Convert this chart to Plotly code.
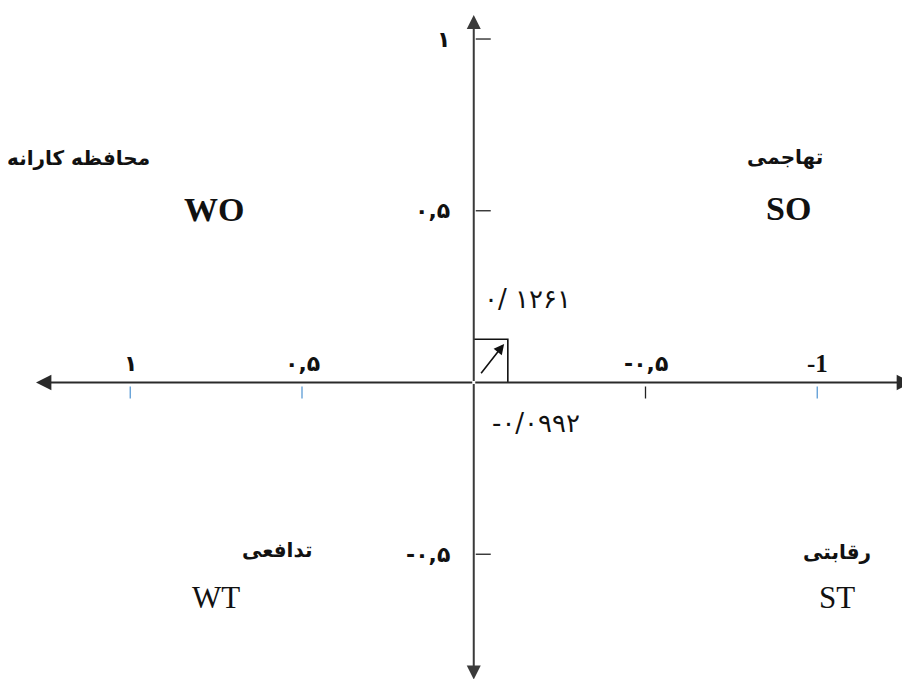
import plotly.graph_objects as go

# ماتریس موقعیت و ارزیابی اقدام راهبردی
x_tick_values = [1, 0.5, -0.5, -1]
x_tick_labels = ["۱", "۰,۵", "-۰,۵", "<b>-1</b>"]
y_tick_values = [1, 0.5, -0.5]
y_tick_labels = ["۱", "۰,۵", "-۰,۵"]

# موقعیت نهایی (بردار جهت)
point_x = [-0.0992]
point_y = [0.1261]
point_x_label = "-۰/۰۹۹۲"
point_y_label = "۰/ ۱۲۶۱"

quadrant_names = ["محافظه کارانه", "تهاجمی", "تدافعی", "رقابتی"]
quadrant_codes = ["WO", "SO", "WT", "ST"]

# ---- layout constants (page body adds an 8px offset) ----
X_RANGE = [1.3559, -1.2933]   # reversed: positive values on the left
Y_RANGE = [-0.8865, 1.0903]
X_END = [1.2744, -1.2760]     # arrow tips of the horizontal axis
Y_END = [1.0699, -0.8650]     # arrow tips of the vertical axis
FA = "DejaVu Sans"
SERIF = "Liberation Serif"
x_tick_colors = ["#5b9bd5", "#5b9bd5", "#222222", "#5b9bd5"]


def paper(xs, ys):
    # screen pixel -> paper fraction
    return (xs - 8) / 910, 1 - (ys - 8) / 679


fig = go.Figure()

# axes with arrow heads
for xe in X_END:
    fig.add_annotation(x=xe, y=0, ax=0, ay=0, xref="x", yref="y", axref="x", ayref="y",
                       text="", showarrow=True, arrowhead=2, arrowsize=1.4,
                       arrowwidth=2.2, arrowcolor="#2a2a2a")
for ye in Y_END:
    fig.add_annotation(x=0, y=ye, ax=0, ay=0, xref="x", yref="y", axref="x", ayref="y",
                       text="", showarrow=True, arrowhead=2, arrowsize=1.4,
                       arrowwidth=2, arrowcolor="#3a3a3a")

# tick marks
for v, c in zip(x_tick_values, x_tick_colors):
    fig.add_shape(type="line", xref="x", yref="y", x0=v, x1=v,
                  ysizemode="pixel", yanchor=0, y0=-4, y1=-16,
                  line=dict(color=c, width=1.3))
for v in y_tick_values:
    fig.add_shape(type="line", xref="x", yref="y", y0=v, y1=v,
                  xsizemode="pixel", xanchor=0, x0=2, x1=17,
                  line=dict(color="#222222", width=1.3))

# tick labels
for v, t in zip(x_tick_values, x_tick_labels):
    latin = t.startswith("<b>")
    fig.add_annotation(x=v, y=0, text=t if latin else f"<b>{t}</b>", showarrow=False,
                       yshift=19, xanchor="center",
                       font=dict(family=SERIF if latin else FA,
                                 size=25 if latin else 22, color="#111111"))
for v, t in zip(y_tick_values, y_tick_labels):
    fig.add_annotation(x=0, y=v, text=f"<b>{t}</b>", showarrow=False, xanchor="right",
                       xshift=-22, font=dict(family=FA, size=22, color="#111111"))

# box around the resulting vector
px, py = point_x[0], point_y[0]
fig.add_trace(go.Scatter(x=[0, px, px], y=[py, py, 0], mode="lines",
                         line=dict(color="#111111", width=1.6),
                         hoverinfo="skip", showlegend=False))
fig.add_annotation(x=px, y=py, ax=0, ay=0, xref="x", yref="y", axref="x", ayref="y",
                   text="", showarrow=True, arrowhead=2, arrowsize=1.3,
                   arrowwidth=1.6, arrowcolor="#111111", standoff=6, startstandoff=10)
fig.add_annotation(x=px, y=py, text=point_y_label, showarrow=False, yshift=40,
                   xshift=20, xanchor="center",
                   font=dict(family=FA, size=26, color="#111111"))
fig.add_annotation(x=px, y=0, text=point_x_label, showarrow=False, yshift=-40,
                   xshift=28, xanchor="center",
                   font=dict(family=FA, size=26, color="#111111"))

# quadrant labels (screen positions in the reference)
name_pos = [paper(78, 158), paper(785, 157), paper(277, 550), paper(837, 552)]
code_pos = [paper(214, 209), paper(788, 208), paper(216, 597), paper(837, 597)]
for name, (xp, yp) in zip(quadrant_names, name_pos):
    fig.add_annotation(x=xp, y=yp, xref="paper", yref="paper", text=f"<b>{name}</b>",
                       xanchor="center", yanchor="middle", showarrow=False,
                       font=dict(family=FA, size=20, color="#111111"))
for code, (xp, yp) in zip(quadrant_codes, code_pos):
    bold = code in ("WO", "SO")
    fig.add_annotation(x=xp, y=yp, xref="paper", yref="paper",
                       text=f"<b>{code}</b>" if bold else code, showarrow=False,
                       xanchor="center", yanchor="middle",
                       font=dict(family=SERIF, size=34 if bold else 31, color="#111111"))

fig.update_layout(
    width=910, height=679,
    margin=dict(l=0, r=0, t=0, b=0),
    paper_bgcolor="white", plot_bgcolor="white",
    xaxis=dict(range=X_RANGE, visible=False, fixedrange=True),
    yaxis=dict(range=Y_RANGE, visible=False, fixedrange=True),
    showlegend=False,
)

fig.write_html("out.html")
